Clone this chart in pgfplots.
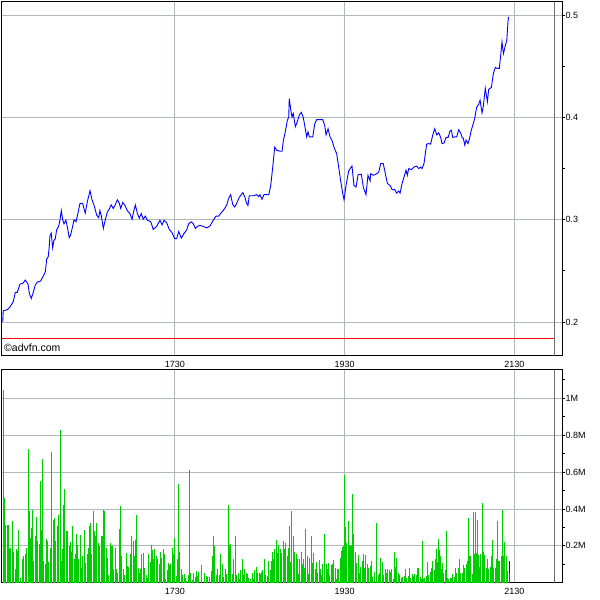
\documentclass[border=0pt]{standalone}
\usepackage{fontspec}
\setmainfont{Liberation Sans}
\usepackage{pgfplots}
\pgfplotsset{compat=1.18}
\usepackage{pgfplotstable}

% x is minutes after 15:30 (1730 = 120, 1930 = 240, 2130 = 360)
\pgfplotstableread{
t v
-1.6 0.200
-1.2 0.211
1.6 0.212
3.5 0.2145
5.9 0.220
7.3 0.229
8.7 0.229
10.6 0.237
12.9 0.238
14.3 0.241
16.3 0.237
17.2 0.228
18.6 0.223
20.0 0.229
21.4 0.236
22.8 0.239
25.2 0.240
27.1 0.245
28.5 0.249
29.5 0.2615
30.6 0.264
31.3 0.274
31.8 0.2845
32.7 0.287
33.7 0.2725
34.6 0.280
35.5 0.281
36.5 0.290
37.9 0.2935
38.9 0.300
39.8 0.309
40.8 0.300
41.7 0.296
43.1 0.2995
44.5 0.290
45.4 0.2825
46.4 0.285
47.8 0.2935
48.8 0.300
50.2 0.298
51.6 0.3065
53.0 0.316
54.9 0.316
56.7 0.3065
58.2 0.3175
60.1 0.3285
61.5 0.3195
62.9 0.3145
64.8 0.3045
66.2 0.302
67.1 0.309
68.1 0.3035
69.5 0.2915
70.9 0.300
72.3 0.3075
73.7 0.3105
75.1 0.3145
76.5 0.311
77.9 0.3145
79.4 0.3195
80.8 0.316
81.8 0.311
83.2 0.317
85.0 0.3135
86.4 0.309
88.3 0.306
89.8 0.3005
90.7 0.3065
92.1 0.3145
93.5 0.3065
94.9 0.3015
96.3 0.306
97.7 0.3005
99.2 0.3035
100.6 0.2995
103.0 0.298
104.8 0.2905
107.2 0.2935
109.5 0.2995
111.0 0.295
112.4 0.2995
114.3 0.297
116.1 0.2905
118.0 0.2875
119.9 0.2815
121.3 0.2815
122.8 0.2885
124.6 0.282
126.5 0.2865
128.4 0.290
129.8 0.296
131.7 0.298
133.1 0.296
134.5 0.2915
135.9 0.2935
137.8 0.2945
140.1 0.2935
142.5 0.292
144.9 0.294
147.2 0.2995
149.1 0.3035
151.0 0.3035
152.9 0.307
154.8 0.310
156.7 0.3145
158.1 0.321
159.5 0.3245
160.9 0.315
162.3 0.3125
163.7 0.316
165.6 0.322
168.0 0.3265
169.4 0.3225
170.8 0.316
171.7 0.314
172.6 0.3235
175.5 0.3235
177.9 0.3245
179.3 0.3225
180.2 0.3245
181.6 0.320
183.0 0.3245
184.9 0.3245
186.4 0.3245
187.8 0.3335
189.2 0.3515
190.6 0.371
192.0 0.368
194.3 0.367
195.8 0.367
196.7 0.3775
198.1 0.386
199.5 0.397
200.5 0.4005
200.9 0.4185
201.9 0.408
202.8 0.4005
203.7 0.404
205.2 0.391
206.6 0.396
208.0 0.4025
209.4 0.405
210.8 0.400
212.2 0.389
213.2 0.381
214.1 0.386
215.1 0.381
217.5 0.381
218.9 0.394
220.3 0.398
222.6 0.398
224.5 0.398
225.9 0.3925
226.9 0.383
228.3 0.389
229.7 0.381
231.1 0.3775
232.5 0.371
234.4 0.3645
235.8 0.3515
237.2 0.338
238.7 0.3255
239.6 0.3195
241.0 0.3335
242.9 0.348
245.2 0.3525
246.6 0.3335
248.1 0.332
249.5 0.344
251.8 0.3445
253.2 0.332
255.1 0.3245
256.5 0.3435
258.0 0.338
258.4 0.345
260.3 0.3435
262.7 0.345
264.1 0.3465
265.5 0.355
267.3 0.355
268.8 0.345
270.2 0.3355
272.1 0.3335
273.5 0.3295
275.4 0.3295
276.8 0.326
278.2 0.328
279.2 0.326
280.6 0.3355
282.0 0.342
283.4 0.3485
284.3 0.3435
285.3 0.350
287.1 0.349
289.0 0.3515
290.9 0.3525
292.4 0.350
293.8 0.3515
294.7 0.350
296.1 0.355
297.0 0.3645
298.0 0.374
299.4 0.3745
300.8 0.374
302.3 0.383
303.7 0.389
305.1 0.383
306.5 0.385
307.9 0.3805
308.8 0.3745
310.2 0.375
311.7 0.3805
313.1 0.3805
314.5 0.387
315.4 0.3875
316.4 0.3805
317.8 0.381
319.2 0.381
320.6 0.388
322.1 0.3845
323.0 0.3805
323.9 0.3795
324.9 0.373
325.8 0.378
327.2 0.3745
328.1 0.3785
329.5 0.3875
330.9 0.394
331.9 0.399
333.3 0.410
334.8 0.413
335.7 0.417
337.1 0.4045
338.0 0.411
339.4 0.4285
340.9 0.4155
341.8 0.4275
343.7 0.4295
345.1 0.443
346.5 0.449
347.9 0.448
349.3 0.448
350.3 0.461
351.2 0.474
352.2 0.4625
353.6 0.4705
354.6 0.4755
355.5 0.495
356.0 0.4985
}\pricedata

% volume in millions
\pgfplotstableread{
t v
-0.7 1.047
0.0 0.459
0.7 0.311
1.6 0.311
2.4 0.315
3.1 0.180
4.2 0.189
5.2 0.335
5.9 0.165
7.1 0.075
8.0 0.183
9.0 0.171
9.9 0.288
11.3 0.027
12.3 0.129
13.2 0.144
14.4 0.153
15.3 0.189
16.5 0.723
17.2 0.387
17.9 0.243
18.8 0.297
19.8 0.396
20.5 0.117
21.4 0.255
22.4 0.356
23.3 0.225
24.3 0.212
25.0 0.549
25.7 0.288
26.4 0.669
27.1 0.117
28.3 0.104
29.2 0.237
30.2 0.225
31.1 0.112
32.0 0.189
33.2 0.709
34.2 0.338
35.1 0.351
35.8 0.225
36.8 0.309
37.9 0.369
39.1 0.827
39.8 0.117
40.5 0.180
41.5 0.423
42.4 0.507
43.3 0.279
44.3 0.279
45.5 0.201
46.2 0.219
46.9 0.165
47.8 0.306
48.8 0.129
49.7 0.153
50.7 0.266
51.4 0.207
52.3 0.126
53.3 0.261
54.2 0.081
55.1 0.144
56.1 0.288
57.0 0.108
58.0 0.153
58.9 0.189
59.6 0.306
60.3 0.324
61.3 0.153
62.4 0.387
63.1 0.279
63.8 0.252
64.8 0.324
66.0 0.216
66.9 0.201
67.9 0.252
68.8 0.255
69.5 0.396
70.2 0.387
71.4 0.189
72.3 0.135
73.5 0.040
74.4 0.216
75.2 0.201
76.1 0.198
77.0 0.076
78.0 0.189
78.9 0.072
79.6 0.054
80.6 0.291
81.5 0.417
82.5 0.144
83.6 0.076
84.6 0.040
85.8 0.162
86.7 0.090
87.6 0.086
88.6 0.158
89.5 0.252
90.5 0.225
91.4 0.147
92.4 0.234
93.1 0.365
94.0 0.081
94.9 0.054
95.9 0.076
96.8 0.153
97.8 0.162
98.7 0.081
99.7 0.040
100.6 0.027
101.6 0.158
102.5 0.112
103.4 0.207
104.4 0.176
105.1 0.129
106.0 0.180
107.0 0.144
107.9 0.129
108.9 0.099
109.8 0.165
110.7 0.135
111.7 0.180
112.6 0.158
113.6 0.018
114.5 0.068
115.4 0.108
116.4 0.094
117.3 0.099
118.3 0.189
119.2 0.153
120.1 0.243
121.1 0.036
122.0 0.126
122.7 0.536
123.4 0.165
124.6 0.076
125.6 0.040
126.8 0.045
127.7 0.027
128.6 0.009
129.6 0.040
130.3 0.612
131.2 0.054
132.4 0.014
133.3 0.054
134.3 0.032
135.0 0.063
136.2 0.036
137.1 0.058
139.0 0.094
141.3 0.054
142.3 0.036
143.2 0.032
144.2 0.032
145.6 0.063
146.5 0.144
147.7 0.255
148.4 0.198
149.6 0.040
150.5 0.076
151.5 0.040
152.6 0.158
153.6 0.104
154.5 0.032
155.7 0.076
156.6 0.045
157.8 0.423
158.8 0.207
159.7 0.212
160.7 0.045
161.6 0.129
162.8 0.255
163.7 0.040
164.7 0.054
165.6 0.018
166.5 0.068
167.7 0.129
168.7 0.040
169.6 0.076
170.5 0.054
171.5 0.045
172.4 0.027
173.4 0.018
174.6 0.050
175.5 0.022
176.4 0.068
177.4 0.086
178.6 0.054
179.5 0.050
180.4 0.045
181.4 0.058
182.3 0.068
183.3 0.126
184.2 0.040
185.2 0.036
186.1 0.117
187.3 0.068
188.0 0.117
188.9 0.165
189.9 0.126
190.8 0.184
191.8 0.234
192.7 0.162
193.6 0.207
194.6 0.184
195.5 0.162
196.5 0.225
197.4 0.184
198.3 0.216
199.3 0.147
200.2 0.189
200.9 0.306
201.9 0.112
202.8 0.387
203.8 0.255
204.7 0.165
205.7 0.158
206.4 0.129
207.3 0.045
208.2 0.129
209.2 0.165
210.1 0.104
211.1 0.129
212.0 0.081
212.7 0.291
213.7 0.144
214.6 0.045
215.5 0.135
216.5 0.255
217.2 0.108
218.1 0.162
219.1 0.076
220.0 0.112
221.0 0.054
221.9 0.122
222.9 0.076
223.8 0.040
224.7 0.104
225.7 0.266
226.9 0.104
227.8 0.072
228.5 0.108
229.4 0.040
230.4 0.094
231.3 0.104
232.3 0.122
233.2 0.081
234.2 0.022
234.9 0.076
235.6 0.076
236.8 0.135
237.5 0.171
238.4 0.194
239.1 0.198
239.8 0.583
240.5 0.302
241.5 0.216
242.4 0.333
243.1 0.207
244.3 0.198
245.0 0.207
245.9 0.482
246.6 0.266
247.6 0.165
248.5 0.108
249.5 0.148
250.4 0.054
251.4 0.086
252.3 0.117
253.2 0.158
254.2 0.081
255.1 0.148
256.1 0.104
257.0 0.081
258.0 0.090
258.9 0.117
259.8 0.032
260.8 0.058
262.7 0.324
263.6 0.040
264.6 0.054
265.7 0.133
266.7 0.112
267.6 0.040
268.6 0.076
269.5 0.054
270.4 0.076
271.4 0.068
272.3 0.058
273.3 0.072
274.2 0.022
275.2 0.165
276.1 0.086
277.0 0.133
278.0 0.054
278.9 0.040
279.9 0.027
281.1 0.032
282.0 0.036
283.0 0.076
283.9 0.027
284.9 0.036
285.8 0.081
286.7 0.027
287.7 0.045
288.6 0.036
289.6 0.045
290.5 0.040
291.5 0.081
292.4 0.081
293.3 0.032
294.3 0.018
295.0 0.225
295.7 0.018
296.6 0.027
297.6 0.036
298.5 0.112
299.5 0.040
300.4 0.058
301.3 0.081
302.3 0.117
303.2 0.068
304.2 0.126
304.9 0.184
305.6 0.112
306.3 0.237
307.0 0.176
307.7 0.144
308.4 0.076
309.4 0.108
310.1 0.054
311.0 0.068
311.9 0.279
312.7 0.027
313.6 0.018
314.5 0.027
315.5 0.027
316.4 0.045
317.4 0.032
318.3 0.081
319.3 0.054
320.2 0.081
321.1 0.129
322.1 0.054
323.0 0.050
324.0 0.094
324.9 0.081
325.8 0.104
326.8 0.117
327.5 0.351
328.2 0.144
329.1 0.144
330.1 0.045
331.0 0.381
331.7 0.153
332.4 0.381
333.2 0.162
333.9 0.342
334.6 0.148
335.3 0.086
336.2 0.158
337.2 0.432
338.1 0.165
339.0 0.148
340.0 0.081
340.9 0.126
341.9 0.072
342.8 0.086
343.5 0.144
344.5 0.234
345.4 0.081
346.3 0.081
347.3 0.126
348.0 0.336
348.9 0.117
349.6 0.117
350.6 0.144
351.5 0.396
352.5 0.144
353.2 0.219
354.1 0.144
355.1 0.063
}\voldata

\definecolor{gridgray}{RGB}{175,185,185}
\definecolor{sepgray}{RGB}{110,110,110}
\definecolor{volgreen}{RGB}{0,205,0}

\pgfplotsset{
  advfn/.style={
    scale only axis,
    anchor=south west,
    width=560pt,
    xmin=-2.1, xmax=393.6,
    axis line style={black, line width=1pt},
    xtick={120,240,360},
    xticklabels={1730,1930,2130},
    major x tick style={draw=none},
    ytick pos=right,
    yticklabel pos=right,
    tick align=outside,
    major tick length=3pt,
    minor tick length=3pt,
    tick style={black, line width=0.8pt},
    grid=major,
    major grid style={gridgray, line width=0.8pt},
    tick label style={font=\fontsize{9}{10}\selectfont, text=black},
    /pgf/number format/assume math mode=true,
    yticklabel style={anchor=west, xshift=-3pt},
    xticklabel style={yshift=1pt},
    clip=true,
  },
}

\begin{document}
\begin{tikzpicture}[x=1pt,y=1pt]
\useasboundingbox (0,0) rectangle (600,600);

% price panel
\begin{axis}[advfn,
  at={(2pt,244pt)},
  height=354pt,
  ymin=0.1667, ymax=0.513,
  ytick={0.2,0.3,0.4,0.5},
  yticklabels={0.2,0.3,0.4,0.5},
  minor ytick={0.25,0.35,0.45},
]
\addplot[blue, line width=0.9pt] table[x=t, y=v] {\pricedata};
\addplot[red, line width=0.9pt] coordinates {(-2.1,0.184) (388.2,0.184)};
\addplot[sepgray, line width=1.1pt] coordinates {(388.2,0.1667) (388.2,0.513)};
\end{axis}
\node[anchor=west, inner sep=0pt, font=\fontsize{10.5}{12}\selectfont] at (4pt,252pt) {©advfn.com};

% volume panel
\begin{axis}[advfn,
  at={(2pt,17.3pt)},
  height=212.7pt,
  ymin=0, ymax=1.153,
  ytick={0.2,0.4,0.6,0.8,1},
  yticklabels={0.2M,0.4M,0.6M,0.8M,1M},
  minor ytick={0.1,0.3,0.5,0.7,0.9,1.1},
]
\addplot[ycomb, volgreen, line width=1pt] table[x=t, y=v] {\voldata};
\addplot[ycomb, blue, line width=1pt] coordinates {(356.5,0.117)};
\addplot[ycomb, red, line width=1pt] coordinates {(356.5,0.054)};
\addplot[sepgray, line width=1.1pt] coordinates {(388.2,0) (388.2,1.153)};
\end{axis}
\end{tikzpicture}
\end{document}
